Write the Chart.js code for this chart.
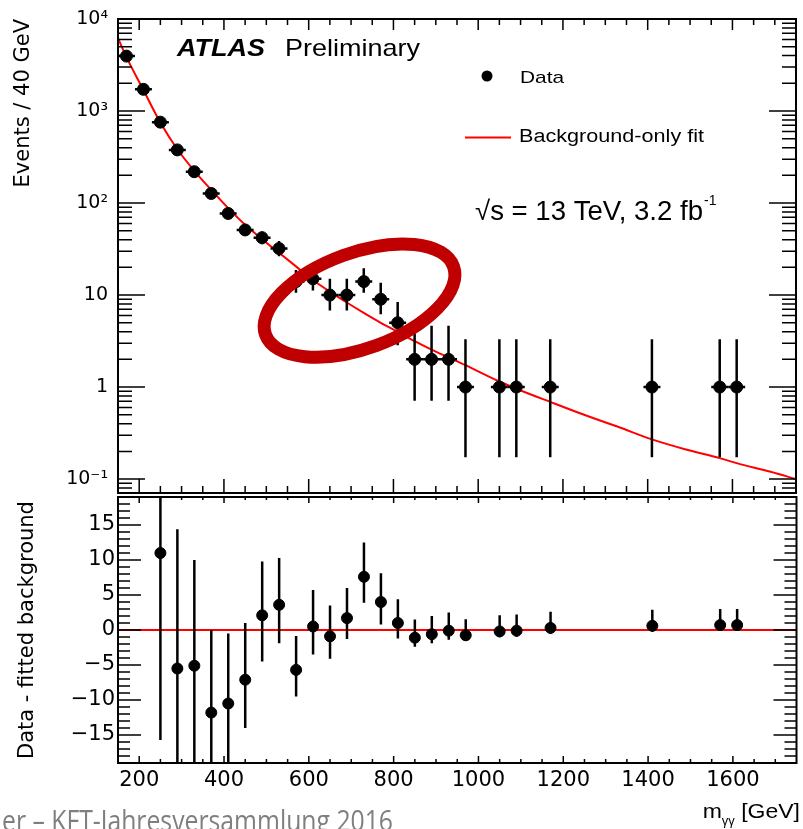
<!DOCTYPE html>
<html>
<head>
<meta charset="utf-8">
<title>ATLAS diphoton spectrum</title>
<script src="https://cdn.jsdelivr.net/npm/chart.js@4.4.0/dist/chart.umd.min.js"></script>
<style>
  html, body { margin: 0; padding: 0; background: #fff; }
  #wrap { position: relative; width: 803px; height: 829px; overflow: hidden; background: #fff; }
  #top { position: absolute; left: 0; top: 0; }
  #bottom { position: absolute; left: 0; top: 480px; }
</style>
</head>
<body>
<div id="wrap">
  <canvas id="bottom" width="803" height="349"></canvas>
  <canvas id="top" width="803" height="500"></canvas>
</div>
<script>
const RED = '#ff0000';

// upper panel: events per 40 GeV bin
const binX = [170, 210, 250, 290, 330, 370, 410, 450, 490, 530, 570, 610, 650, 690,
  730, 770, 810, 850, 890, 930, 970, 1050, 1090, 1170, 1410, 1570, 1610];
const events = [3950, 1720, 757, 378, 219, 127, 77, 51, 42, 32, 14, 15, 10, 10,
  14, 9, 5, 2, 2, 2, 1, 1, 1, 1, 1, 1, 1];
const eventsLow = [3887, 1679, 730, 359, 205, 116, 68.4, 43.9, 35.6, 26.4, 10.6, 11.2, 6.8, 6.8,
  10.6, 6.2, 2.84, 0.71, 0.71, 0.71, 0.173, 0.173, 0.173, 0.173, 0.173, 0.173, 0.173];
const eventsHigh = [4013, 1762, 785, 398, 234, 139, 86.8, 58.7, 48.9, 38.7, 18.7, 19.5, 15, 15,
  19.5, 13.6, 8.38, 4.64, 4.64, 4.64, 3.3, 3.3, 3.3, 3.3, 3.3, 3.3, 3.3];

// background-only fit curve
const fitX = [150, 170, 210, 250, 290, 330, 370, 410, 450, 490, 530, 570, 610, 650, 690, 730,
  770, 810, 850, 890, 930, 970, 1050, 1090, 1170, 1250, 1330, 1410, 1490, 1570, 1610, 1690, 1750];
const fitY = [6200, 3850, 1690, 750, 384, 224, 139, 88, 58, 40.5, 28.8, 20.5, 14.6, 10.9, 8.3, 6.4,
  5.0, 4.0, 3.15, 2.55, 2.1, 1.73, 1.15, 0.96, 0.69, 0.5, 0.37, 0.27, 0.21, 0.169, 0.149, 0.12, 0.10];

// lower panel: data - fitted background
const diffX = [250, 290, 330, 370, 410, 450, 490, 530, 570, 610, 650, 690, 730, 770, 810,
  850, 890, 930, 970, 1050, 1090, 1170, 1410, 1570, 1610];
const diff = [11, -5.5, -5.1, -11.8, -10.5, -7.1, 2.1, 3.6, -5.7, 0.5, -0.9, 1.7, 7.6, 4.0, 1.0,
  -1.1, -0.6, -0.1, -0.75, -0.2, -0.1, 0.3, 0.6, 0.7, 0.7];
const diffLow = [-15.7, -25, -20, -23, -20, -14, -4.5, -1.9, -9.5, -3.5, -4.1, -1.3, 3.9, 0.8, -1.2,
  -2.4, -1.9, -1.4, -1.55, -1.05, -0.95, -0.55, -0.25, -0.15, -0.15];
const diffHigh = [38, 14.4, 10.0, 0, -0.5, 1.0, 9.8, 10.3, -0.85, 5.7, 3.5, 6.0, 12.5, 8.1, 4.4,
  1.5, 2.0, 2.5, 1.55, 2.1, 2.2, 2.6, 2.9, 3.0, 3.0];
const zeroX = [150, 1750];
const zeroY = [0, 0];

const xTicks = [200, 400, 600, 800, 1000, 1200, 1400, 1600];
const xTickLabels = ['200', '400', '600', '800', '1000', '1200', '1400', '1600'];
const yTopTicks = [0.1, 1, 10, 100, 1000, 10000];
const yTopLabels = ['10⁻¹', '1', '10', '10²', '10³', '10⁴'];
const yBottomTicks = [-15, -10, -5, 0, 5, 10, 15];
const yBottomLabels = ['−15', '−10', '−5', '0', '5', '10', '15'];

const ringX = 720, ringY = 8.7;

const pts = (xs, ys) => xs.map((x, i) => ({ x: x, y: ys[i] }));

function stretchText(ctx, text, x, y, font, width) {
  ctx.save();
  ctx.font = font;
  const w = ctx.measureText(text).width;
  const sx = width ? width / w : 1;
  ctx.translate(x, y);
  ctx.scale(sx, 1);
  ctx.textAlign = 'left';
  ctx.textBaseline = 'alphabetic';
  ctx.fillText(text, 0, 0);
  ctx.restore();
  return w * sx;
}

const errorBars = {
  id: 'errorBars',
  afterDatasetsDraw(chart) {
    const { ctx, chartArea: a, scales: { x, y } } = chart;
    ctx.save();
    ctx.beginPath();
    ctx.rect(a.left, a.top, a.width, a.height);
    ctx.clip();
    ctx.strokeStyle = '#000';
    ctx.lineWidth = 2.5;
    chart.data.datasets.forEach(ds => {
      if (!ds.errLow) return;
      ds.data.forEach((p, i) => {
        const px = x.getPixelForValue(p.x);
        ctx.beginPath();
        ctx.moveTo(px, y.getPixelForValue(ds.errLow[i]));
        ctx.lineTo(px, y.getPixelForValue(ds.errHigh[i]));
        if (ds.binHalf) {
          const py = y.getPixelForValue(p.y);
          ctx.moveTo(x.getPixelForValue(p.x - ds.binHalf), py);
          ctx.lineTo(x.getPixelForValue(p.x + ds.binHalf), py);
        }
        ctx.stroke();
      });
    });
    ctx.restore();
  }
};

function frameTicks(o) {
  return {
    id: 'frameTicks',
    afterDraw(chart) {
      const { ctx, chartArea: a, scales: { x, y } } = chart;
      ctx.save();
      ctx.strokeStyle = '#000';
      ctx.lineWidth = 1.5;
      ctx.beginPath();
      for (let v = 200; v < 1750; v += 50) {
        const px = x.getPixelForValue(v), big = v % 200 === 0;
        ctx.moveTo(px, a.top);
        ctx.lineTo(px, a.top + (big ? o.topMajor : o.topMinor));
        ctx.moveTo(px, a.bottom);
        ctx.lineTo(px, a.bottom - (big ? o.bottomMajor : o.bottomMinor));
      }
      o.yTicks(y).forEach(([v, big]) => {
        const py = y.getPixelForValue(v);
        ctx.moveTo(a.left, py);
        ctx.lineTo(a.left + (big ? o.sideMajor : o.sideMinor), py);
        ctx.moveTo(a.right, py);
        ctx.lineTo(a.right - (big ? o.sideMajor : o.sideMinor), py);
      });
      ctx.stroke();
      ctx.lineWidth = 2;
      ctx.strokeRect(a.left, a.top, a.width, a.height);
      ctx.restore();
    }
  };
}

const logTicks = y => {
  const out = [];
  for (let d = -2; d <= 4; d++) {
    for (let k = 1; k <= 9; k++) {
      const v = k * Math.pow(10, d);
      if (v >= y.min && v <= y.max * 1.0001) out.push([v, k === 1]);
    }
  }
  return out;
};
const linTicks = y => {
  const out = [];
  for (let v = -19; v <= 19; v++) out.push([v, v % 5 === 0]);
  return out;
};

const topNotes = {
  id: 'topNotes',
  afterDraw(chart) {
    const { ctx, scales: { x, y } } = chart;
    ctx.save();
    ctx.fillStyle = '#000';
    stretchText(ctx, 'ATLAS', 177, 56, 'italic bold 24px "Liberation Sans"', 88);
    stretchText(ctx, 'Preliminary', 285, 56, '24px "Liberation Sans"', 135);

    // legend
    ctx.beginPath();
    ctx.arc(487, 76, 5.5, 0, Math.PI * 2);
    ctx.fill();
    stretchText(ctx, 'Data', 520, 83, '17px "Liberation Sans"', 44);
    ctx.strokeStyle = RED;
    ctx.lineWidth = 2;
    ctx.beginPath();
    ctx.moveTo(465, 137.5);
    ctx.lineTo(511, 137.5);
    ctx.stroke();
    stretchText(ctx, 'Background-only fit', 519, 142, '18px "Liberation Sans"', 185);

    const w = stretchText(ctx, '√s = 13 TeV, 3.2 fb', 475, 220, '27px "Liberation Sans"', 228);
    stretchText(ctx, '-1', 475 + w + 1, 205, '14px "Liberation Sans"');

    // highlighted excess
    ctx.strokeStyle = '#c00000';
    ctx.lineWidth = 13;
    ctx.beginPath();
    ctx.ellipse(x.getPixelForValue(ringX), y.getPixelForValue(ringY), 100, 48, -20 * Math.PI / 180, 0, Math.PI * 2);
    ctx.stroke();
    ctx.restore();
  }
};

const bottomNotes = {
  id: 'bottomNotes',
  afterDraw(chart) {
    const { ctx } = chart;
    ctx.save();
    ctx.fillStyle = '#000';
    // x title, right aligned to the frame
    const f = '20px "Liberation Sans"', fs = '13px "Liberation Sans"';
    ctx.font = f;
    const wUnit = ctx.measureText(' [GeV]').width * 1.15;
    const wm = ctx.measureText('m').width * 1.15;
    ctx.font = fs;
    const wg = ctx.measureText('γγ').width;
    let xr = 800 - wUnit;
    stretchText(ctx, ' [GeV]', xr, 338, f, wUnit);
    stretchText(ctx, 'γγ', xr - wg, 345, fs);
    stretchText(ctx, 'm', xr - wg - wm, 338, f, wm);
    // slide footer
    ctx.fillStyle = '#7f7f7f';
    stretchText(ctx, 'er – KFT-Jahresversammlung 2016', 2, 351, '30px "Open Sans"', 391);
    ctx.restore();
  }
};

const tickFont = { family: 'DejaVu Sans', size: 21 };

new Chart(document.getElementById('top'), {
  type: 'scatter',
  data: {
    datasets: [
      {
        type: 'line',
        label: 'Background-only fit',
        data: pts(fitX, fitY),
        borderColor: RED,
        borderWidth: 2,
        pointRadius: 0,
        cubicInterpolationMode: 'monotone',
        order: 2
      },
      {
        label: 'Data',
        data: pts(binX, events),
        errLow: eventsLow,
        errHigh: eventsHigh,
        binHalf: 20,
        backgroundColor: '#000',
        borderColor: '#000',
        pointRadius: 6,
        order: 1
      }
    ]
  },
  options: {
    responsive: false,
    animation: false,
    layout: { padding: { top: 19, right: 2, bottom: 3, left: 0 } },
    plugins: { legend: { display: false }, tooltip: { enabled: false } },
    scales: {
      x: { type: 'linear', min: 150, max: 1750, display: false },
      y: {
        type: 'logarithmic',
        min: 0.0706,
        max: 10000,
        afterBuildTicks: s => { s.ticks = yTopTicks.map(v => ({ value: v })); },
        afterFit: s => { s.width = 118; s.paddingTop = 0; s.paddingBottom = 0; },
        grid: { display: false, drawTicks: false },
        border: { display: false },
        ticks: {
          padding: 10,
          autoSkip: false,
          color: '#000',
          font: { family: 'DejaVu Sans', size: 19 },
          callback: v => yTopLabels[yTopTicks.indexOf(v)]
        },
        title: {
          display: true,
          text: 'Events / 40 GeV',
          align: 'end',
          color: '#000',
          font: { family: 'DejaVu Sans', size: 21 },
          padding: { top: 11, bottom: 0 }
        }
      }
    }
  },
  plugins: [errorBars, frameTicks({ topMajor: 11, topMinor: 6, bottomMajor: 14, bottomMinor: 7, sideMajor: 27, sideMinor: 14, yTicks: logTicks }), topNotes]
});

new Chart(document.getElementById('bottom'), {
  type: 'scatter',
  data: {
    datasets: [
      {
        type: 'line',
        label: 'fit',
        data: pts(zeroX, zeroY),
        borderColor: RED,
        borderWidth: 2,
        pointRadius: 0,
        order: 2
      },
      {
        label: 'Data - fitted background',
        data: pts(diffX, diff),
        errLow: diffLow,
        errHigh: diffHigh,
        backgroundColor: '#000',
        borderColor: '#000',
        pointRadius: 5.5,
        order: 1
      }
    ]
  },
  options: {
    responsive: false,
    animation: false,
    layout: { padding: { top: 17, right: 2, bottom: 0, left: 0 } },
    plugins: { legend: { display: false }, tooltip: { enabled: false } },
    scales: {
      x: {
        type: 'linear',
        min: 150,
        max: 1750,
        afterBuildTicks: s => { s.ticks = xTicks.map(v => ({ value: v })); },
        afterFit: s => { s.height = 66; s.paddingLeft = 0; s.paddingRight = 0; },
        grid: { display: false, drawTicks: false },
        border: { display: false },
        ticks: {
          padding: 5,
          maxRotation: 0,
          autoSkip: false,
          color: '#000',
          font: tickFont,
          callback: v => xTickLabels[xTicks.indexOf(v)]
        }
      },
      y: {
        min: -19,
        max: 19,
        afterBuildTicks: s => { s.ticks = yBottomTicks.map(v => ({ value: v })); },
        afterFit: s => { s.width = 118; s.paddingTop = 0; s.paddingBottom = 0; },
        grid: { display: false, drawTicks: false },
        border: { display: false },
        ticks: {
          padding: 3,
          autoSkip: false,
          color: '#000',
          font: tickFont,
          callback: v => yBottomLabels[yBottomTicks.indexOf(v)]
        },
        title: {
          display: true,
          text: 'Data - fitted background',
          color: '#000',
          font: { family: 'DejaVu Sans', size: 21 },
          padding: { top: 15, bottom: 0 }
        }
      }
    }
  },
  plugins: [errorBars, frameTicks({ topMajor: 6, topMinor: 3, bottomMajor: 7, bottomMinor: 4, sideMajor: 23, sideMinor: 12, yTicks: linTicks }), bottomNotes]
});
</script>
</body>
</html>
